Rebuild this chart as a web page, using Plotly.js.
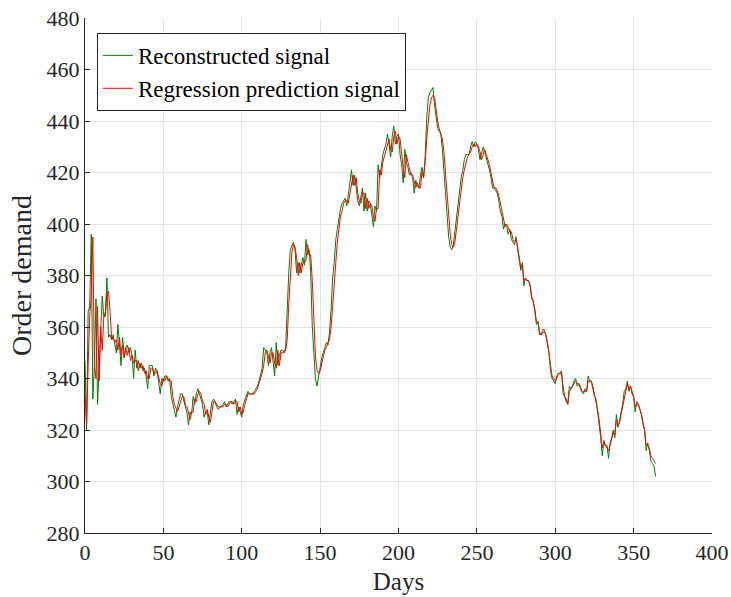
<!DOCTYPE html>
<html>
<head>
<meta charset="utf-8">
<script src="https://cdn.plot.ly/plotly-3.0.1.min.js"></script>
<style>
html,body{margin:0;padding:0;background:#fff;}
#chart{width:731px;height:597px;}
</style>
</head>
<body>
<div id="chart"></div>
<script>
// Reconstructed signal, one value per day starting at day 0
const reconstructed = [
347,320,366,368,396,332,345,371,330,345,
361,372,364,366,379,356,357,355,357,353,
350,361,352,345,356,348,352,353,350,352,
349,340,351,344,347,344,346,343,344,341,
336,345,345,345,341,344,343,339,334,340,
339,341,341,339,340,333,330,328,325,329,
331,334,334,331,329,327,322,327,326,333,
330,334,336,334,332,330,325,327,327,322,
327,331,332,331,329,328,329,329,330,331,
329,330,331,331,330,331,332,326,329,327,
325,330,332,334,335,334,334,334,335,336,
337,339,341,344,352,351,350,345,350,352,
347,341,354,345,349,351,351,350,352,370,
381,390,392,393,390,381,385,381,384,387,
384,394,388,390,381,360,350,340,337,341,
344,348,350,352,354,353,358,367,379,385,
394,398,403,406,408,409,410,407,411,416,
421,415,419,413,409,407,411,414,405,412,
405,409,408,403,399,407,405,423,418,422,
427,429,431,435,430,426,434,438,431,434,
435,427,423,416,429,424,422,419,420,418,
412,417,415,414,419,422,418,426,441,449,
451,452,453,446,441,437,436,435,429,421,
411,402,395,391,390,392,397,403,409,414,
418,421,425,427,427,427,430,432,430,432,
431,429,425,427,430,428,426,424,421,418,
414,414,413,412,409,405,403,398,400,399,
396,398,394,393,392,395,390,386,382,385,
376,379,378,378,376,371,370,366,361,362,
357,357,359,359,357,354,350,343,340,339,
338,341,342,342,343,334,333,331,330,337,
336,337,339,340,337,338,336,335,334,336,
335,341,339,339,336,333,332,327,323,317,
310,316,314,314,309,315,317,320,317,326,
321,323,327,330,335,336,339,335,337,334,
333,327,331,330,328,326,322,320,312,315,
312,308,307,306,302
];
// Regression prediction signal, one value per day starting at day 0
const regression = [
334,322,345,364,372,395,345,340,368,339,
360,351,364,364,373,374,366,355,356,354,
355,351,356,349,353,348,352,349,352,347,
349,346,347,347,343,346,344,345,342,343,
340,340,344,344,342,342,343,340,338,337,
340,339,341,340,339,339,333,330,328,327,
329,331,333,333,330,329,327,324,327,327,
332,331,334,335,334,331,330,326,328,325,
323,327,331,331,330,329,329,329,329,330,
330,329,330,331,331,330,331,331,327,329,
326,327,330,332,334,334,334,334,334,335,
336,338,340,342,345,350,351,349,346,350,
350,346,344,351,345,350,350,350,351,355,
369,381,389,392,391,387,380,385,381,385,
385,386,392,388,388,378,360,349,343,342,
343,346,349,351,352,354,355,360,368,379,
385,393,398,403,405,408,409,409,408,412,
415,419,415,418,412,409,408,412,412,406,
410,406,408,407,403,401,406,406,421,419,
424,426,429,431,433,429,428,434,436,431,
434,433,426,422,418,427,424,421,419,419,
416,414,416,414,414,420,418,424,433,441,
446,449,450,449,444,440,437,435,433,428,
420,411,402,396,392,391,393,398,404,409,
414,418,421,424,426,427,428,430,431,430,
431,430,428,425,427,429,427,425,423,420,
417,414,414,413,411,408,405,402,399,400,
398,397,397,394,393,394,391,387,383,384,
378,379,378,378,376,372,370,367,362,362,
358,357,358,358,357,354,350,345,341,340,
339,340,342,342,342,337,333,332,330,335,
336,337,338,339,338,338,337,335,335,335,
335,339,339,339,337,334,332,328,324,319,
313,315,314,313,312,314,317,319,318,324,
322,323,326,329,333,335,338,336,337,335,
333,329,330,330,328,326,323,320,314,314,
313,310,309,308,307
];
const days = reconstructed.map((_, i) => i);
const xTicks = [0, 50, 100, 150, 200, 250, 300, 350, 400];
const yTicks = [280, 300, 320, 340, 360, 380, 400, 420, 440, 460, 480];

const FONT = 'Liberation Serif';

const traces = [
  {x: days, y: reconstructed, type: 'scatter', mode: 'lines',
   name: 'Reconstructed signal', line: {color: '#008000', width: 1}},
  {x: days, y: regression, type: 'scatter', mode: 'lines',
   name: 'Regression prediction signal', line: {color: '#ff0000', width: 1}}
];

function axis(extra) {
  return Object.assign({
    showline: true, linecolor: '#262626', linewidth: 1,
    ticks: 'inside', ticklen: 5, tickcolor: '#262626', tickwidth: 1,
    showgrid: true, gridcolor: '#e3e3e3', gridwidth: 1,
    zeroline: false, mirror: false,
    tickfont: {family: FONT, size: 22, color: '#262626'},
    automargin: false
  }, extra);
}

const layout = {
  width: 731, height: 597,
  margin: {l: 85, r: 19, t: 18, b: 64},
  paper_bgcolor: '#ffffff', plot_bgcolor: '#ffffff',
  font: {family: FONT, size: 22, color: '#262626'},
  showlegend: true,
  legend: {
    x: 0.019, y: 0.971, xanchor: 'left', yanchor: 'top',
    bgcolor: '#ffffff', bordercolor: '#262626', borderwidth: 1,
    font: {family: FONT, size: 23, color: '#000000'},
    tracegroupgap: 0
  },
  xaxis: axis({
    range: [0, 400], tickmode: 'array', tickvals: xTicks,
    title: {text: 'Days', font: {family: FONT, size: 25, color: '#262626'}, standoff: 8}
  }),
  yaxis: axis({
    range: [280, 480], tickmode: 'array', tickvals: yTicks,
    title: {text: 'Order demand', font: {family: FONT, size: 28, color: '#262626'}, standoff: 6}
  })
};

Plotly.newPlot('chart', traces, layout, {displayModeBar: false, staticPlot: true}).then(gd => {
  gd.querySelectorAll('.xtick text, .ytick text').forEach(t => {
    t.style.fontFamily = "'Liberation Serif', serif";
  });
});
</script>
</body>
</html>
